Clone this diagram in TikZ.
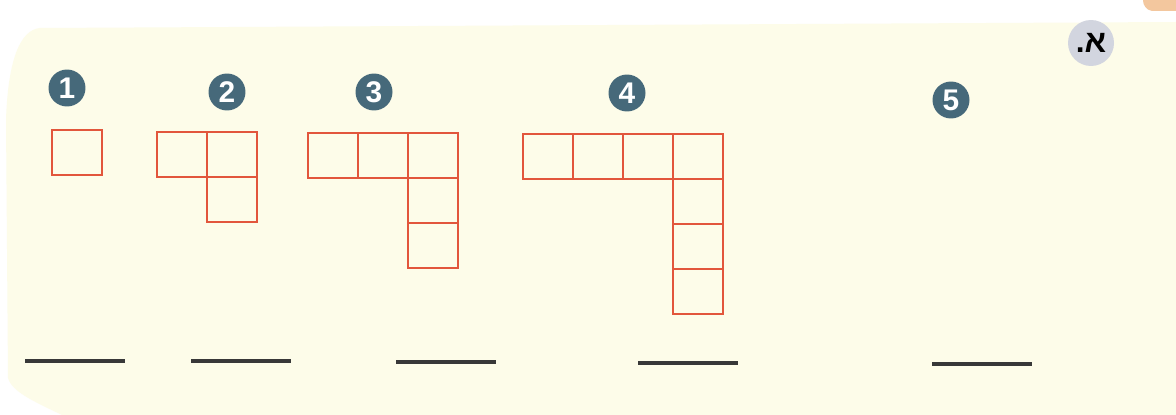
\documentclass[tikz,border=0pt]{standalone}
\usepackage{fontspec}
\setmainfont{Liberation Sans}
\newfontfamily\hebfont[Script=Hebrew]{Liberation Sans}
\TeXXeTstate=1
\usepackage{xcolor}
\usetikzlibrary{positioning}
\definecolor{WBPaper}{HTML}{FDFCE9}
\definecolor{WBCell}{HTML}{E2563C}
\definecolor{WBBadge}{HTML}{46697A}
\definecolor{WBTag}{HTML}{D2D5DF}
\definecolor{WBPeach}{HTML}{F3C79E}
\definecolor{WBInk}{HTML}{383838}
\begin{document}
\begin{tikzpicture}[
        x=0.02cm,y=-0.02cm,
        node distance=0pt,
        cell/.style={draw=WBCell,line width=0.7pt,minimum width=1cm,minimum height=0.9cm,inner sep=0pt,outer sep=0pt},
        badge/.style={circle,fill=WBBadge,text=white,minimum size=0.74cm,inner sep=0pt,font=\fontsize{17}{17}\selectfont\bfseries},
        tag/.style={circle,fill=WBTag,minimum size=0.92cm,inner sep=0pt,font=\fontsize{18}{18}\selectfont\bfseries\hebfont},
        blank/.style={draw=WBInk,line width=1.8pt}
      ]
      \useasboundingbox (0,0) rectangle (1176,415);
      \fill[white] (0,0) rectangle (1176,415);
      \fill[WBPaper] (40,28) -- (1176,22) -- (1176,415) -- (62,415)
        .. controls (35,402) and (12,392) .. (8,378) -- (6,120) .. controls (8,60) and (20,30) .. (40,28) -- cycle;
      \fill[WBPeach] (1143,0) -- (1176,0) -- (1176,11) -- (1152,11) .. controls (1146,10) and (1143,5) .. (1143,0) -- cycle;

      \node[tag] (alef) at (1091,43) {\beginR א.\endR};

      \node[badge] (n1) at (67,88) {1};
      \node[badge] (n2) at (227,92) {2};
      \node[badge] (n3) at (374,92) {3};
      \node[badge] (n4) at (627,93) {4};
      \node[badge] (n5) at (951,100) {5};

      \node[cell] (a1) at (77,152.5) {};

      \node[cell] (b1) at (182,154.5) {};
      \node[cell,right=of b1] (b2) {};
      \node[cell,below=of b2] (b3) {};

      \node[cell] (c1) at (333,155.5) {};
      \node[cell,right=of c1] (c2) {};
      \node[cell,right=of c2] (c3) {};
      \node[cell,below=of c3] (c4) {};
      \node[cell,below=of c4] (c5) {};

      \node[cell] (d1) at (548,156.5) {};
      \node[cell,right=of d1] (d2) {};
      \node[cell,right=of d2] (d3) {};
      \node[cell,right=of d3] (d4) {};
      \node[cell,below=of d4] (d5) {};
      \node[cell,below=of d5] (d6) {};
      \node[cell,below=of d6] (d7) {};

      \foreach \x/\y in {25/361,191/361,396/362,638/363,932/364}
        \draw[blank] (\x,\y) -- ++(100,0);
    \end{tikzpicture}
\end{document}
